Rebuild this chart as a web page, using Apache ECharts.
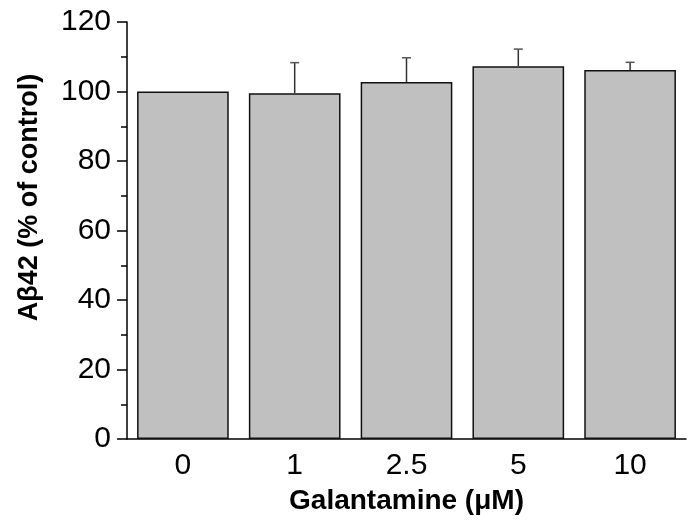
<!DOCTYPE html>
<html>
<head>
<meta charset="utf-8">
<script src="https://cdn.jsdelivr.net/npm/echarts@6/dist/echarts.min.js"></script>
<style>
html,body{margin:0;padding:0;background:#fff;}
#chart{width:690px;height:530px;}
</style>
</head>
<body>
<div id="chart"></div>
<script>
var categories = ['0', '1', '2.5', '5', '10'];
var means = [100, 99.5, 102.7, 107.3, 106.2];
var errors = [0, 8.8, 7.0, 4.9, 2.2];
var yTicks = [0, 20, 40, 60, 80, 100, 120];
var xTitle = 'Galantamine (\u03BCM)';
var yTitle = 'A\u03B242 (% of control)';

var FONT = '"Liberation Sans", Arial, Helvetica, sans-serif';
var chart = echarts.init(document.getElementById('chart'), null, {renderer: 'canvas'});

var errData = categories.map(function (c, i) { return [i, means[i], errors[i]]; });

chart.setOption({
  animation: false,
  backgroundColor: '#ffffff',
  grid: {left: 127, right: 4, top: 22, bottom: 91, containLabel: false},
  xAxis: {
    type: 'category',
    data: categories,
    axisLine: {show: true, lineStyle: {color: '#000', width: 1.5}},
    axisTick: {show: false},
    axisLabel: {color: '#000', fontFamily: FONT, fontSize: 30, margin: 12},
    name: xTitle,
    nameLocation: 'middle',
    nameGap: 48,
    nameTextStyle: {color: '#000', fontFamily: FONT, fontSize: 28, fontWeight: 'bold'}
  },
  yAxis: {
    type: 'value',
    min: yTicks[0],
    max: yTicks[yTicks.length - 1],
    interval: yTicks[1] - yTicks[0],
    splitLine: {show: false},
    axisLine: {show: true, lineStyle: {color: '#000', width: 1.5}},
    axisTick: {show: true, inside: false, length: 10, lineStyle: {color: '#000', width: 1.5}},
    minorTick: {show: true, splitNumber: 2, length: 6, lineStyle: {color: '#000', width: 1.5}},
    axisLabel: {color: '#000', fontFamily: FONT, fontSize: 30, margin: 16},
    name: yTitle,
    nameLocation: 'middle',
    nameRotate: 90,
    nameGap: 84,
    nameTextStyle: {color: '#000', fontFamily: FONT, fontSize: 27, fontWeight: 'bold', padding: [0, 0, 0, 66]}
  },
  series: [
    {
      type: 'bar',
      data: means,
      barWidth: '82%',
      itemStyle: {color: '#c0c0c0', borderColor: '#111', borderWidth: 1.5},
      silent: true
    },
    {
      type: 'custom',
      data: errData,
      encode: {x: 0, y: 1},
      z: 5,
      silent: true,
      renderItem: function (params, api) {
        var i = api.value(0), m = api.value(1), e = api.value(2);
        if (!(e > 0)) return null;
        var p0 = api.coord([i, m]);
        var p1 = api.coord([i, m + e]);
        var hw = 4.5;
        return {
          type: 'group',
          children: [
            {type: 'line', shape: {x1: p0[0], y1: p0[1], x2: p1[0], y2: p1[1]}, style: {stroke: '#333', lineWidth: 1.5}},
            {type: 'line', shape: {x1: p1[0] - hw, y1: p1[1], x2: p1[0] + hw, y2: p1[1]}, style: {stroke: '#555', lineWidth: 1.5}}
          ]
        };
      }
    }
  ]
});
</script>
</body>
</html>
